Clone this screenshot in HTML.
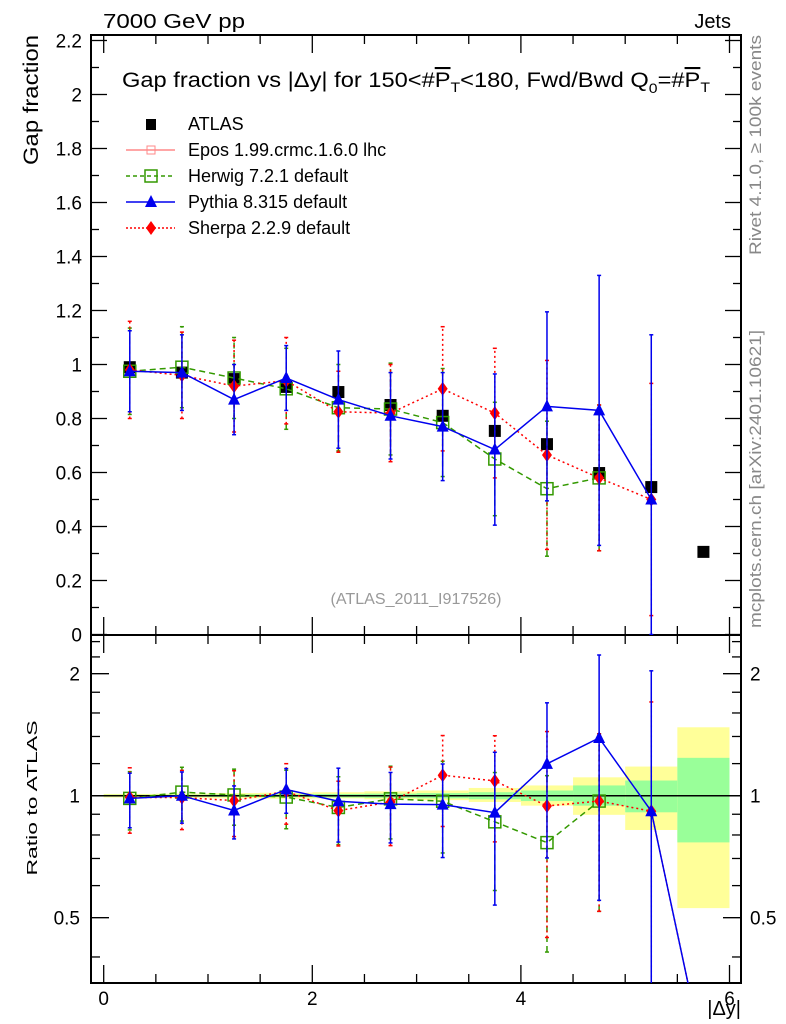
<!DOCTYPE html>
<html><head><meta charset="utf-8"><style>
html,body{margin:0;padding:0;background:#fff;overflow:hidden;width:786px;height:1024px;}
svg{display:block;font-family:"Liberation Sans",sans-serif;}
</style></head><body>
<svg id="c" width="786" height="1024" viewBox="0 0 786 1024"></svg>
<script>
const xCenters=[0.25,0.75,1.25,1.75,2.25,2.75,3.25,3.75,4.25,4.75,5.25,5.75];
const atlasVals=[0.99,0.97,0.946,0.917,0.898,0.85,0.81,0.754,0.705,0.598,0.546,0.306];
const herwigVals=[0.975,0.99,0.95,0.91,0.84,0.835,0.785,0.65,0.54,0.58];
const herwigErr=[0.16,0.15,0.15,0.15,0.16,0.17,0.2,0.21,0.25,0.27];
const pythiaVals=[0.975,0.97,0.87,0.95,0.87,0.81,0.77,0.685,0.845,0.83,0.5,0.07];
const pythiaErr=[0.15,0.14,0.13,0.12,0.18,0.16,0.2,0.28,0.35,0.5,0.61,0];
const sherpaVals=[0.98,0.96,0.92,0.94,0.825,0.82,0.91,0.82,0.665,0.58,0.5,0.07];
const sherpaErr=[0.18,0.16,0.17,0.16,0.15,0.18,0.23,0.24,0.35,0.27,0.43,0];
const bandYelHi=[1.01,1.012,1.015,1.017,1.02,1.025,1.03,1.045,1.06,1.11,1.18,1.475];
const bandYelLo=[0.99,0.988,0.985,0.983,0.985,0.98,0.975,0.965,0.945,0.897,0.823,0.528];
const bandGrnHi=[1.005,1.006,1.007,1.008,1.01,1.012,1.015,1.02,1.03,1.06,1.09,1.24];
const bandGrnLo=[0.995,0.994,0.993,0.992,0.99,0.988,0.985,0.98,0.97,0.945,0.91,0.767];
const mainTicks=[0,0.2,0.4,0.6,0.8,1,1.2,1.4,1.6,1.8,2,2.2];
const mainTickLabels=["0","0.2","0.4","0.6","0.8","1","1.2","1.4","1.6","1.8","2","2.2"];
const xTicks=[0,2,4,6];
const ratioTicks=[0.5,1,2];

const NS="http://www.w3.org/2000/svg";
const svg=document.getElementById('c');
function el(t,a,p){const e=document.createElementNS(NS,t);for(const k in a)e.setAttribute(k,a[k]);(p||svg).appendChild(e);return e;}
const L=91,R=741,T=35,MB=635,RB=983;
const X=v=>103.7+v*104.3;
const Y=v=>634.5-v*270;
const YR=r=>795.7-Math.log2(r)*122;

const defs=el('defs',{});
const cp1=el('clipPath',{id:'cm'},defs);el('rect',{x:L,y:T,width:R-L,height:MB-T},cp1);
const cp2=el('clipPath',{id:'cr'},defs);el('rect',{x:L,y:MB,width:R-L,height:RB-MB},cp2);

let t=el('text',{x:103,y:28,'font-size':20,textLength:142,lengthAdjust:'spacingAndGlyphs'});t.textContent='7000 GeV pp';

t=el('text',{x:731,y:28,'font-size':20,'text-anchor':'end'});t.textContent='Jets';

t=el('text',{x:122,y:87,'font-size':21,textLength:588,lengthAdjust:'spacingAndGlyphs'});

t.innerHTML='Gap fraction vs |Δy| for 150&lt;#<tspan text-decoration="overline">P</tspan><tspan font-size="14" dy="5">T</tspan><tspan dy="-5">&lt;180, Fwd/Bwd Q</tspan><tspan font-size="14" dy="6">0</tspan><tspan dy="-6">=#</tspan><tspan text-decoration="overline">P</tspan><tspan font-size="14" dy="5">T</tspan>';
t=el('text',{x:0,y:0,'font-size':21,transform:'translate(38,35) rotate(-90)','text-anchor':'end',textLength:130,lengthAdjust:'spacingAndGlyphs'});t.textContent='Gap fraction';

t=el('text',{x:0,y:0,'font-size':15,transform:'translate(37,798) rotate(-90)','text-anchor':'middle',textLength:155,lengthAdjust:'spacingAndGlyphs'});t.textContent='Ratio to ATLAS';

t=el('text',{x:741,y:1015,'font-size':20,'text-anchor':'end'});t.textContent='|Δy|';

t=el('text',{x:0,y:0,'font-size':17,fill:'#888',transform:'translate(761,255) rotate(-90)',textLength:220,lengthAdjust:'spacingAndGlyphs'});t.textContent='Rivet 4.1.0, ≥ 100k events';

t=el('text',{x:0,y:0,'font-size':17,fill:'#888',transform:'translate(761,628) rotate(-90)',textLength:298,lengthAdjust:'spacingAndGlyphs'});t.textContent='mcplots.cern.ch [arXiv:2401.10621]';

t=el('text',{x:416,y:604,'font-size':16,fill:'#999','text-anchor':'middle',textLength:171,lengthAdjust:'spacingAndGlyphs'});t.textContent='(ATLAS_2011_I917526)';


const gb=el('g',{'clip-path':'url(#cr)'});

xCenters.forEach((x,i)=>{
  const r1=el('rect',{x:X(x-0.25),y:YR(bandYelHi[i]),width:X(0.5)-X(0),height:YR(bandYelLo[i])-YR(bandYelHi[i]),fill:'#ffff99'},gb);
  
  const r2=el('rect',{x:X(x-0.25),y:YR(bandGrnHi[i]),width:X(0.5)-X(0),height:YR(bandGrnLo[i])-YR(bandGrnHi[i]),fill:'#99ff99'},gb);
  
});
el('line',{x1:L,x2:R,y1:YR(1),y2:YR(1),stroke:'#000','stroke-width':1.5});

let f=el('rect',{x:L,y:T,width:R-L,height:MB-T,fill:'none',stroke:'#000','stroke-width':2});

f=el('rect',{x:L,y:MB,width:R-L,height:RB-MB,fill:'none',stroke:'#000','stroke-width':2});


for(let v=0;v<=2.21;v+=0.1){const y=Y(v);const maj=Math.abs(v*5-Math.round(v*5))<1e-6;const w=maj?16:8;
  el('line',{x1:L,x2:L+w,y1:y,y2:y,stroke:'#000','stroke-width':1.3});el('line',{x1:R,x2:R-w,y1:y,y2:y,stroke:'#000','stroke-width':1.3});}
mainTicks.forEach((v,i)=>{const tt=el('text',{x:82,y:Y(v)+7,'font-size':19,'text-anchor':'end'});tt.textContent=mainTickLabels[i];
  });
for(let v=0;v<=6.01;v+=0.5){const x=X(v);const maj=Math.abs(v-Math.round(v/2)*2)<1e-6;const w=maj?18:9;
  [[MB,-1],[T,1],[RB,-1],[MB,1]].forEach(([y,d])=>el('line',{x1:x,x2:x,y1:y,y2:y+d*w,stroke:'#000','stroke-width':1.3}));}
xTicks.forEach(v=>{const tt=el('text',{x:X(v),y:1005,'font-size':19,'text-anchor':'middle'});tt.textContent=String(v);
  });
[0.4,0.5,0.6,0.7,0.8,0.9,1,1.2,1.4,1.6,1.8,2,2.2,2.4].forEach(r=>{const y=YR(r);if(y<MB||y>RB)return;const maj=ratioTicks.includes(r);const w=maj?18:9;
  el('line',{x1:L,x2:L+w,y1:y,y2:y,stroke:'#000','stroke-width':1.3});el('line',{x1:R,x2:R-w,y1:y,y2:y,stroke:'#000','stroke-width':1.3});});
ratioTicks.forEach(r=>{let tt=el('text',{x:80,y:YR(r)+7,'font-size':19,'text-anchor':'end'});tt.textContent=String(r);
  
  tt=el('text',{x:750,y:YR(r)+7,'font-size':19});tt.textContent=String(r);
  });

function marker(type,cx,cy,col,g){
  if(type==='sq')return el('rect',{x:cx-6,y:cy-6,width:12,height:12,fill:'none',stroke:col,'stroke-width':1.5},g);
  if(type==='tri')return el('polygon',{points:`${cx},${cy-7} ${cx-6},${cy+5} ${cx+6},${cy+5}`,fill:col},g);
  if(type==='dia')return el('polygon',{points:`${cx},${cy-7} ${cx-5},${cy} ${cx},${cy+7} ${cx+5},${cy}`,fill:col},g);
  return el('rect',{x:cx-6,y:cy-6,width:12,height:12,fill:col},g);
}
const series=[
 {name:'herwig',vals:herwigVals,err:herwigErr,col:'#339900',dash:'6,4',m:'sq'},
 {name:'sherpa',vals:sherpaVals,err:sherpaErr,col:'#ff0000',dash:'2,3',m:'dia'},
 {name:'pythia',vals:pythiaVals,err:pythiaErr,col:'#0000ee',dash:'',m:'tri'},
];
function drawSeries(s,yf,ratio,clip,label){
  const g=el('g',{'clip-path':`url(#${clip})`});
  
  const n=ratio?s.vals.length:Math.min(s.vals.length,11);
  const vs=s.vals.slice(0,n);
  const pts=vs.map((v,i)=>{const r=ratio?v/atlasVals[i]:v;return [X(xCenters[i]),yf(r)];});
  el('polyline',{points:pts.map(p=>p.join(',')).join(' '),fill:'none',stroke:s.col,'stroke-width':1.5,'stroke-dasharray':s.dash},g);
  vs.forEach((v,i)=>{if(!s.err[i])return;const d=ratio?atlasVals[i]:1;const e=s.err[i];
    const lo=Math.max((v-e)/d,ratio?0.01:0), hi=(v+e)/d;const x=X(xCenters[i]);
    el('line',{x1:x,x2:x,y1:yf(lo),y2:yf(hi),stroke:s.col,'stroke-width':1.5,'stroke-dasharray':s.dash},g);
    el('line',{x1:x-2,x2:x+2,y1:yf(lo),y2:yf(lo),stroke:s.col,'stroke-width':1.5},g);
    el('line',{x1:x-2,x2:x+2,y1:yf(hi),y2:yf(hi),stroke:s.col,'stroke-width':1.5},g);
  });
  vs.forEach((v,i)=>{if(!s.err[i])return;const r=ratio?v/atlasVals[i]:v;const mk=marker(s.m,X(xCenters[i]),yf(r),s.col,g);
    });
}
const ga=el('g',{'clip-path':'url(#cm)'});

atlasVals.forEach((v,i)=>{const mk=marker('atl',X(xCenters[i]),Y(v),'#000',ga);
  });
series.forEach(s=>{drawSeries(s,Y,false,'cm','main');drawSeries(s,YR,true,'cr','ratio');});

const leg=[['ATLAS','atl','#000',''],['Epos 1.99.crmc.1.6.0 lhc','ep','#ff8888',''],['Herwig 7.2.1 default','sq','#339900','4,3'],['Pythia 8.315 default','tri','#0000ee',''],['Sherpa 2.2.9 default','dia','#ff0000','2,2']];
leg.forEach((l,i)=>{const y=124+i*26;const g=el('g',{});
  
  if(i>0)el('line',{x1:126,x2:175,y1:y,y2:y,stroke:l[2],'stroke-width':1.5,'stroke-dasharray':l[3]},g);
  if(l[1]==='ep'){el('rect',{x:147,y:y-4,width:8,height:8,fill:'none',stroke:l[2]},g);}
  else if(l[1]==='atl'){el('rect',{x:146,y:y-5,width:10,height:11,fill:'#000'},g);}
  else marker(l[1],151,y,l[2],g);
  const tt=el('text',{x:188,y:y+6,'font-size':18},g);tt.textContent=l[0];});
</script>
</body></html>
